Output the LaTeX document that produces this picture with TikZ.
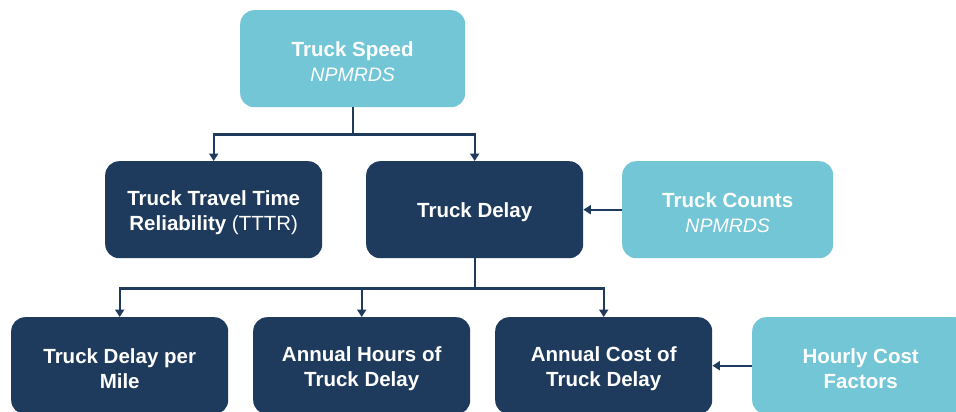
\documentclass[tikz,border=0pt]{standalone}
\usepackage{fontspec}
\setmainfont{Liberation Sans}
\usetikzlibrary{arrows.meta}
\definecolor{navy}{HTML}{1E3A5C}
\definecolor{sky}{HTML}{72C6D6}
\begin{document}
\begin{tikzpicture}[x=1pt,y=-1pt,
  card/.style={rounded corners=14pt, minimum height=97pt, minimum width=217pt,
    inner sep=0pt, anchor=north west},
  dark/.style={card, fill=navy},
  light/.style={card, fill=sky},
  caption/.style={align=center, text=white, inner sep=0pt, yshift=-2.5pt,
    font=\fontsize{20.5}{25}\selectfont\bfseries},
  wire/.style={draw=navy, line width=2.4pt},
  link/.style={wire, -{Triangle[length=7.5pt,width=9pt]}}
]
\newcommand{\srcname}{{\fontsize{19.5}{25}\selectfont\mdseries\itshape NPMRDS}}
\clip (0,0) rectangle (956,412);
\fill[white] (0,0) rectangle (956,412);

% boxes
\node[light, minimum width=225pt] (speed) at (240,10) {};
\node[dark] (tttr) at (105,161) {};
\node[dark] (delay) at (366,161) {};
\node[light, minimum width=211pt] (counts) at (622,161) {};
\node[dark] (mile) at (11,317) {};
\node[dark] (hours) at (253,317) {};
\node[dark] (cost) at (495,317) {};
\node[light] (hourly) at (752,317) {};

% captions
\node[caption] (speed-t) at (speed.center) {Truck Speed\\\srcname};
\node[caption] (tttr-t) at (tttr.center) {Truck Travel Time\\Reliability {\mdseries(TTTR)}};
\node[caption] (delay-t) at (delay.center) {Truck Delay};
\node[caption] (counts-t) at (counts.center) {Truck Counts\\\srcname};
\node[caption] (mile-t) at (mile.center) {Truck Delay per\\Mile};
\node[caption] (hours-t) at (hours.center) {Annual Hours of\\Truck Delay};
\node[caption] (cost-t) at (cost.center) {Annual Cost of\\Truck Delay};
\node[caption] (hourly-t) at (hourly.center) {Hourly Cost\\Factors};

% connectors
\path (speed.south) ++(0,27) coordinate (j1);
\draw[wire] (speed.south) -- (j1);
\draw[link] (j1) -| (tttr.north);
\draw[link] (j1) -| (delay.north);

\path (delay.south) ++(0,30) coordinate (j2);
\draw[wire] (delay.south) -- (j2);
\draw[link] (j2) -| (mile.north);
\draw[link] (j2) -| (hours.north);
\draw[link] (j2) -| (cost.north);

\draw[link] (counts.west) -- (delay.east);
\draw[link] (hourly.west) -- (cost.east);
\end{tikzpicture}
\end{document}
